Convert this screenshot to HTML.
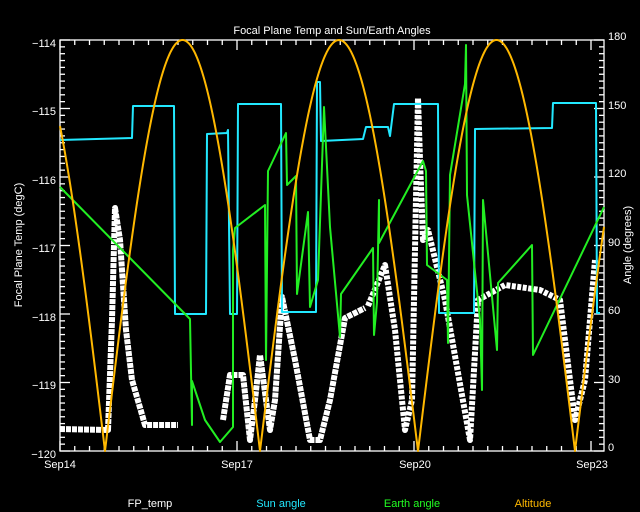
<!DOCTYPE html>
<html><head><meta charset="utf-8"><style>
html,body{margin:0;padding:0;background:#000;}
svg{display:block;}
text{font-family:"Liberation Sans",sans-serif;font-size:11px;fill:#fff;}
</style></head><body>
<svg id="s" width="640" height="512" viewBox="0 0 640 512" xmlns="http://www.w3.org/2000/svg">
<rect width="640" height="512" fill="#000"/>
<text x="332" y="34" text-anchor="middle" font-size="12">Focal Plane Temp and Sun/Earth Angles</text>
<g id="axes" stroke="#fff" stroke-width="1.3" fill="none">
<rect x="60" y="40" width="544" height="411"/>
</g>
<g text-anchor="end">
<text x="56" y="47">−114</text><text x="56" y="115">−115</text><text x="56" y="184">−116</text>
<text x="56" y="252">−117</text><text x="56" y="321">−118</text><text x="56" y="389">−119</text>
<text x="56" y="458">−120</text>
</g>
<g text-anchor="start">
<text x="608" y="40">180</text><text x="608" y="109">150</text><text x="608" y="177">120</text>
<text x="608" y="246">90</text><text x="608" y="314">60</text><text x="608" y="383">30</text>
<text x="608" y="451">0</text>
</g>
<text x="60" y="468" text-anchor="middle">Sep14</text>
<text x="237" y="468" text-anchor="middle">Sep17</text>
<text x="415" y="468" text-anchor="middle">Sep20</text>
<text x="592" y="468" text-anchor="middle">Sep23</text>
<text transform="translate(22,245) rotate(-90)" text-anchor="middle">Focal Plane Temp (degC)</text>
<text transform="translate(631,245) rotate(-90)" text-anchor="middle">Angle (degrees)</text>
<text x="150" y="507" text-anchor="middle">FP_temp</text>
<text x="281" y="507" text-anchor="middle" style="fill:#22e8ff">Sun angle</text>
<text x="412" y="507" text-anchor="middle" style="fill:#22ff22">Earth angle</text>
<text x="533" y="507" text-anchor="middle" style="fill:#ffb800">Altitude</text>
<g fill="none" stroke-linejoin="round">
<polyline stroke="#fff" stroke-width="6" stroke-dasharray="5 1" points="60,429 108,430 112,320 115,208 120,240 126,330 132,380 145,425 178,425"/>
<polyline stroke="#fff" stroke-width="6" stroke-dasharray="5 1" points="223,420 230,375 243,375 250,440 255,400 260,355 270,430 275,400 282,297 295,360 310,440 320,440 330,400 345,318 365,308"/>
<polyline stroke="#fff" stroke-width="6" stroke-dasharray="4 1.5" points="368,306 385,265 395,330 405,430 412,400 418,98 420,160 423,240 428,230 445,300 470,440 478,300 505,285 540,290 560,300 575,420 585,380 595,260"/>
<polyline stroke="#22e8ff" stroke-width="2" points="60,140 132,138 133,106 174,106 175,314 206,314 207,134 227,133 228,130 230,314 237,314 238,104 281,104 282,312 316,312 317,82 320,82 321,141 363,139 366,127 388,127 390,136 394,104 438,104 439,313 474,313 475,129 552,128 553,103 596,103 597,313 600,313"/>
<polyline stroke="#22ee22" stroke-width="2" points="60,187 190,319 192,425 192,381 205,420 220,442 233,427 233,250 235,228 265,205 266,360 268,171 286,133 287,185 296,176 297,294 308,212 310,307 318,280 324,107 330,227 340,337 341,294 373,248 374,335 377,302 379,200 379,243 423,161 426,171 427,265 447,280 448,343 450,175 465,84 466,45 467,195 480,320 482,390 483,200 497,350 498,283 532,245 533,355 604,207"/>
<polyline id="alt" stroke="#ffb800" stroke-width="2"/>
</g>
</svg>
<script>
var s=document.getElementById('s'),ns="http://www.w3.org/2000/svg",ax=document.getElementById('axes');
function ln(x1,y1,x2,y2){var l=document.createElementNS(ns,'line');l.setAttribute('x1',x1);l.setAttribute('y1',y1);l.setAttribute('x2',x2);l.setAttribute('y2',y2);ax.appendChild(l);}
for(var i=0;i<=60;i++){var y=451-i*411/60,L=(i%10==0)?10:5;ln(60,y,60+L,y);ln(604,y,604-L,y);}
for(var i=0;i*14.75<=544;i++){var x=60+i*14.75,L=(i%12==0)?10:5;ln(x,451,x,451-L);ln(x,40,x,40+L);}
var mins=[-50,105,260,418,575,733],p=[];
for(var x=60;x<=604;x+=1){for(var k=0;k<mins.length-1;k++){if(x>=mins[k]&&x<=mins[k+1]){var v=Math.sin(Math.PI*(x-mins[k])/(mins[k+1]-mins[k]));p.push(x+','+(451-411*v).toFixed(1));break;}}}
document.getElementById('alt').setAttribute('points',p.join(' '));
</script>
</body></html>
